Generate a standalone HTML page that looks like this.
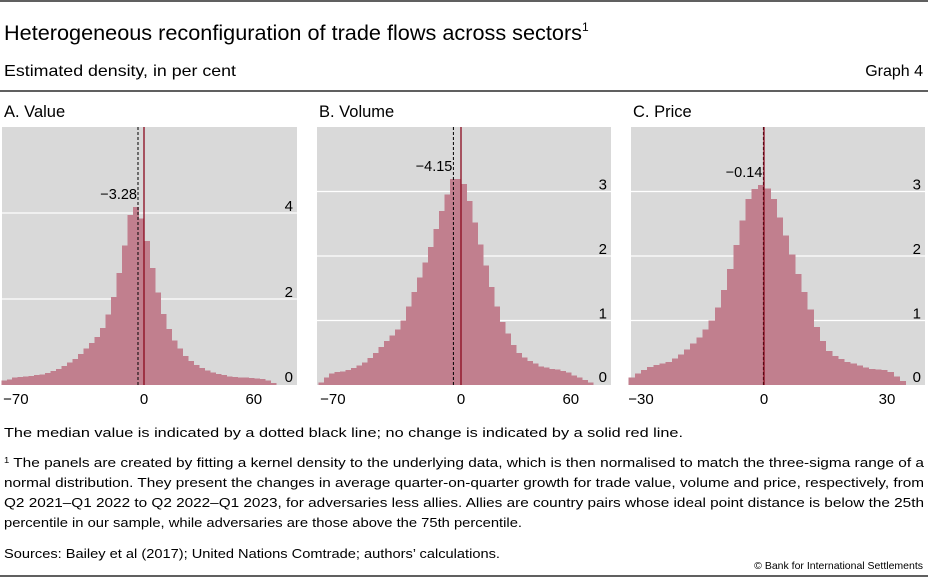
<!DOCTYPE html>
<html><head><meta charset="utf-8"><style>
html,body{margin:0;padding:0;background:#fff;}
svg{display:block;font-family:"Liberation Sans",sans-serif;}
</style></head><body>
<svg id="chart" width="928" height="577" viewBox="0 0 928 577">
<line x1="0" y1="1" x2="928" y2="1" stroke="#000" stroke-width="1.3"/>
<text x="4" y="40" font-size="21" fill="#000"><tspan textLength="578" lengthAdjust="spacingAndGlyphs">Heterogeneous reconfiguration of trade flows across sectors</tspan><tspan font-size="12" dy="-9">1</tspan></text>
<text x="4" y="76" font-size="16" textLength="232" lengthAdjust="spacingAndGlyphs">Estimated density, in per cent</text>
<text x="923" y="76" font-size="16" text-anchor="end">Graph 4</text>
<line x1="0" y1="91" x2="928" y2="91" stroke="#000" stroke-width="1.3"/>
<g id="panels"></g>
<text x="4" y="437" font-size="13" textLength="679" lengthAdjust="spacingAndGlyphs">The median value is indicated by a dotted black line; no change is indicated by a solid red line.</text>
<g font-size="13">
<text x="4" y="467" textLength="920" lengthAdjust="spacingAndGlyphs"><tspan font-size="8" dy="-4">1</tspan><tspan dy="4">  The panels are created by fitting a kernel density to the underlying data, which is then normalised to match the three-sigma range of a</tspan></text>
<text x="4" y="487" textLength="920" lengthAdjust="spacingAndGlyphs">normal distribution. They present the changes in average quarter-on-quarter growth for trade value, volume and price, respectively, from</text>
<text x="4" y="507" textLength="920" lengthAdjust="spacingAndGlyphs">Q2 2021–Q1 2022 to Q2 2022–Q1 2023, for adversaries less allies. Allies are country pairs whose ideal point distance is below the 25th</text>
<text x="4" y="527" textLength="518" lengthAdjust="spacingAndGlyphs">percentile in our sample, while adversaries are those above the 75th percentile.</text>
</g>
<text x="4" y="558" font-size="13" textLength="496" lengthAdjust="spacingAndGlyphs">Sources: Bailey et al (2017); United Nations Comtrade; authors’ calculations.</text>
<text x="923" y="569" font-size="10.5" text-anchor="end">© Bank for International Settlements</text>
<line x1="0" y1="576" x2="928" y2="576" stroke="#000" stroke-width="1.3"/>
</svg>
<script>
// Panel A: Value (bins width 3, starting at -78)
const valueDensity = [0.10,0.13,0.17,0.19,0.20,0.21,0.23,0.25,0.28,0.32,0.37,0.44,0.52,0.61,0.72,0.85,0.98,1.12,1.33,1.64,2.05,2.6,3.25,3.95,4.14,3.87,3.35,2.72,2.15,1.65,1.3,1.04,0.85,0.68,0.56,0.46,0.40,0.34,0.29,0.26,0.23,0.20,0.19,0.18,0.17,0.16,0.15,0.14,0.10,0.05];
// Panel B: Volume (bins width 3, starting at -78)
const volumeDensity = [0.04,0.12,0.18,0.20,0.21,0.23,0.26,0.30,0.35,0.42,0.50,0.59,0.68,0.77,0.86,1.0,1.22,1.44,1.67,1.90,2.14,2.42,2.70,2.95,3.19,3.19,3.12,2.85,2.52,2.18,1.85,1.52,1.22,0.98,0.80,0.62,0.50,0.43,0.37,0.33,0.29,0.27,0.25,0.24,0.22,0.19,0.15,0.12,0.08,0.04];
// Panel C: Price (bins width 1.5, starting at -33)
const priceDensity = [0.12,0.18,0.23,0.28,0.31,0.33,0.36,0.41,0.47,0.55,0.64,0.74,0.86,1.0,1.2,1.47,1.80,2.17,2.55,2.88,3.04,3.10,3.05,2.88,2.60,2.32,2.02,1.72,1.44,1.17,0.90,0.68,0.53,0.45,0.40,0.36,0.33,0.30,0.27,0.25,0.24,0.23,0.20,0.13,0.06];
const panelTitles = ["A. Value","B. Volume","C. Price"];
const binStarts = [-78,-78,-33];
const binWidths = [3,3,1.5];
const medians = [-3.28,-4.15,-0.14];
const medianLabels = ["−3.28","−4.15","−0.14"];
const xTicks = [[-70,0,60],[-70,0,60],[-30,0,30]];
const xTickLabels = [["−70","0","60"],["−70","0","60"],["−30","0","30"]];
const yTicks = [[0,2,4],[0,1,2,3],[0,1,2,3]];
const yMax = [6,4,4];
const densities = [valueDensity, volumeDensity, priceDensity];

const layout = [
  {left:2, right:297, zeroX:144, pxPerUnit:1.83},
  {left:317, right:611, zeroX:461, pxPerUnit:1.83},
  {left:631, right:925, zeroX:764, pxPerUnit:4.1}
];
const plotTop=127, plotBottom=385;
const NS="http://www.w3.org/2000/svg";
const root=document.getElementById('panels');
function mk(tag, attrs, parent){const e=document.createElementNS(NS,tag);for(const k in attrs)e.setAttribute(k,attrs[k]);parent.appendChild(e);return e;}

for(let p=0;p<3;p++){
  const L=layout[p];
  const xs=v=>L.zeroX+v*L.pxPerUnit;
  const ys=v=>plotBottom-(v/yMax[p])*(plotBottom-plotTop);
  const g=mk('g',{},root);
  
  
  const t=mk('text',{x:L.left+2,y:117,'font-size':16.5},g);
  t.textContent=panelTitles[p];
  
  
  const bg=mk('rect',{x:L.left,y:plotTop,width:L.right-L.left,height:plotBottom-plotTop,fill:'#d9d9d9'},g);
  
  
  yTicks[p].forEach(v=>{
    if(v>0){
      const gl=mk('line',{x1:L.left,x2:L.right,y1:ys(v),y2:ys(v),stroke:'#fff','stroke-width':1.2},g);
      
      
    }
  });
  const d=densities[p];
  d.forEach((v,i)=>{
    const x0=xs(binStarts[p]+i*binWidths[p]);
    const x1=xs(binStarts[p]+(i+1)*binWidths[p]);
    const r=mk('rect',{x:x0,y:ys(v),width:x1-x0+0.6,height:plotBottom-ys(v),fill:'#c17f8e','shape-rendering':'crispEdges'},g);
    
    
  });
  yTicks[p].forEach(v=>{
    const lbl=mk('text',{x:L.right-4,y:(v===0?ys(v)-3:ys(v)-2),'font-size':15,'text-anchor':'end'},g);
    lbl.textContent=String(v);
    
    
  });
  const med=mk('line',{x1:xs(medians[p]),x2:xs(medians[p]),y1:plotTop,y2:plotBottom,stroke:'#000','stroke-width':1,'stroke-dasharray':'3,2'},g);
  
  
  const zero=mk('line',{x1:xs(0),x2:xs(0),y1:plotTop,y2:plotBottom,stroke:'#8b0a1e','stroke-width':1.3},g);
  
  
  const peak=Math.max(...d);
  const ml=mk('text',{x:xs(medians[p])-1,y:ys(peak)-8,'font-size':14.5,'text-anchor':'end'},g);
  ml.textContent=medianLabels[p];
  
  
  xTicks[p].forEach((v,i)=>{
    const xl=mk('text',{x:xs(v),y:404,'font-size':15,'text-anchor':'middle'},g);
    xl.textContent=xTickLabels[p][i];
    
    
  });
}
</script>
</body></html>
